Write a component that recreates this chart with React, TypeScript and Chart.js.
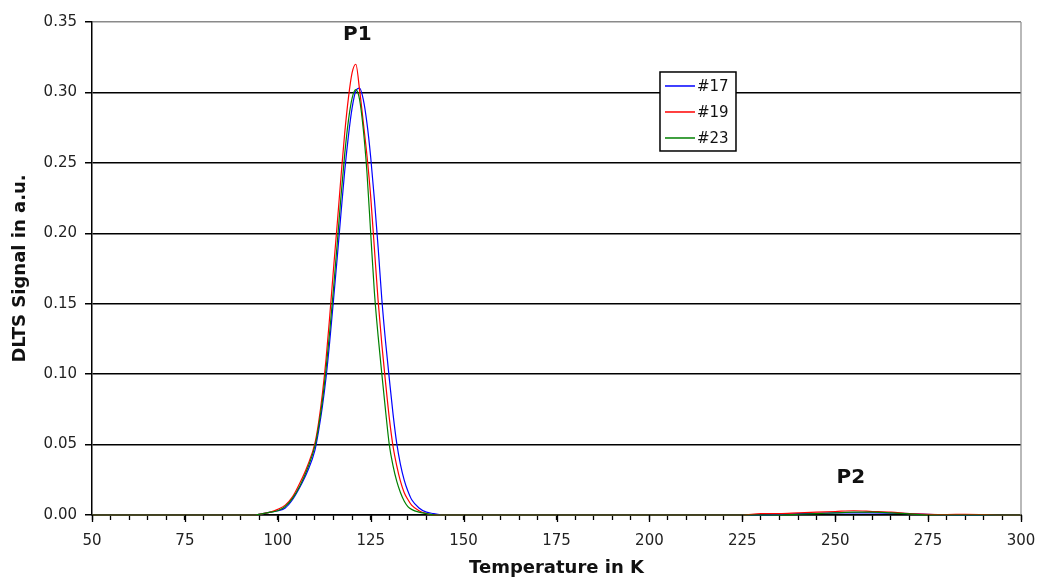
import React, { useEffect, useRef } from "react";
import { Chart, registerables } from "chart.js";

Chart.register(...registerables);

// Temperature grid (K)
const temps = [
  50, 60, 70, 80, 90, 94, 96, 98, 100, 102, 104, 106, 108, 110, 111, 112, 113, 114, 115, 116,
  117, 118, 119, 120, 121, 122, 123, 124, 125, 126, 127, 128, 129, 130, 131, 132, 133, 134, 135,
  136, 138, 140, 142, 144, 146, 150, 175, 200, 225, 230, 235, 240, 245, 250, 255, 260, 265, 270,
  275, 280, 285, 290, 295, 300,
];

// DLTS signal (a.u.) for sample #17
const signal17 = [
  0, 0, 0, 0, 0, 0, 0.001, 0.002, 0.003, 0.005, 0.011, 0.02, 0.031, 0.046, 0.06, 0.077, 0.098,
  0.124, 0.153, 0.183, 0.214, 0.244, 0.269, 0.289, 0.301, 0.303, 0.295, 0.278, 0.254, 0.224, 0.19,
  0.153, 0.123, 0.097, 0.072, 0.051, 0.036, 0.025, 0.017, 0.011, 0.005, 0.002, 0.001, 0, 0, 0, 0,
  0, 0, 0, 0.0005, 0.001, 0.0012, 0.0015, 0.0015, 0.0015, 0.0013, 0.001, 0.0005, 0, 0, 0, 0, 0,
];

// DLTS signal (a.u.) for sample #19
const signal19 = [
  0, 0, 0, 0, 0, 0, 0.001, 0.002, 0.004, 0.007, 0.013, 0.023, 0.035, 0.051, 0.066, 0.086, 0.111,
  0.142, 0.175, 0.207, 0.24, 0.271, 0.296, 0.314, 0.32, 0.302, 0.279, 0.255, 0.226, 0.189, 0.152,
  0.121, 0.094, 0.069, 0.049, 0.035, 0.024, 0.016, 0.011, 0.007, 0.003, 0.001, 0, 0, 0, 0, 0, 0,
  0, 0.001, 0.001, 0.0015, 0.002, 0.0025, 0.003, 0.0025, 0.002, 0.001, 0.0005, 0.0003, 0.0005,
  0.0003, 0, 0,
];

// DLTS signal (a.u.) for sample #23
const signal23 = [
  0, 0, 0, 0, 0, 0, 0.001, 0.002, 0.003, 0.006, 0.012, 0.021, 0.033, 0.049, 0.063, 0.081, 0.104,
  0.131, 0.161, 0.193, 0.226, 0.256, 0.28, 0.296, 0.302, 0.295, 0.274, 0.243, 0.2, 0.158, 0.127,
  0.1, 0.074, 0.05, 0.035, 0.024, 0.016, 0.01, 0.006, 0.004, 0.002, 0.001, 0, 0, 0, 0, 0, 0, 0, 0,
  0, 0.0005, 0.001, 0.0015, 0.002, 0.002, 0.0015, 0.0008, 0, 0, 0, 0, 0, 0,
];

const seriesNames = ["#17", "#19", "#23"];
const seriesColors = ["#0000ff", "#ff0000", "#008000"];

// Major x tick values (labelled)
const majorTicks = [50, 75, 100, 125, 150, 175, 200, 225, 250, 275, 300];

// Peak annotations: label, temperature, signal
const peakLabels = ["P1", "P2"];
const peakTemps = [121.4, 254.2];
const peakSignals = [0.341, 0.0263];

const FONT = "'DejaVu Sans', 'Liberation Sans', Arial, sans-serif";

export default function App() {
  const canvasRef = useRef<HTMLCanvasElement | null>(null);

  useEffect(() => {
    const canvas = canvasRef.current;
    if (!canvas) return;
    const series = [signal17, signal19, signal23];

    const overlay = {
      id: "overlay",
      afterDraw(chart: any) {
        const { ctx, chartArea: a, scales } = chart;
        ctx.save();
        // right plot-area border
        ctx.strokeStyle = "#8a8a8a";
        ctx.lineWidth = 1.2;
        ctx.beginPath();
        ctx.moveTo(a.right, a.top);
        ctx.lineTo(a.right, a.bottom);
        ctx.stroke();

        // longer major ticks on x axis
        ctx.strokeStyle = "#000";
        ctx.lineWidth = 1.3;
        majorTicks.forEach((t) => {
          const px = Math.round(scales.x.getPixelForValue(t)) + 0.5;
          ctx.beginPath();
          ctx.moveTo(px, a.bottom);
          ctx.lineTo(px, a.bottom + 7);
          ctx.stroke();
        });

        // peak labels
        ctx.fillStyle = "#111";
        ctx.font = `bold 20px ${FONT}`;
        ctx.textAlign = "center";
        ctx.textBaseline = "middle";
        peakLabels.forEach((t, i) => {
          ctx.fillText(t, scales.x.getPixelForValue(peakTemps[i]), scales.y.getPixelForValue(peakSignals[i]));
        });

        // legend box
        const w = a.right - a.left;
        const h = a.bottom - a.top;
        const lx = a.left + 0.6114 * w;
        const ly = a.top + 0.1014 * h;
        const bw = 76;
        const bh = 79;
        ctx.fillStyle = "#fff";
        ctx.fillRect(lx, ly, bw, bh);
        ctx.strokeStyle = "#000";
        ctx.lineWidth = 1.5;
        ctx.strokeRect(lx, ly, bw, bh);
        ctx.font = `15px ${FONT}`;
        ctx.textAlign = "left";
        seriesNames.forEach((n, i) => {
          const yy = ly + 14 + i * 26;
          ctx.strokeStyle = seriesColors[i];
          ctx.lineWidth = 1.5;
          ctx.beginPath();
          ctx.moveTo(lx + 5, yy);
          ctx.lineTo(lx + 35, yy);
          ctx.stroke();
          ctx.fillStyle = "#111";
          ctx.fillText(n, lx + 37, yy + 1);
        });
        ctx.restore();
      },
    };

    const chart = new Chart(canvas, {
      type: "line",
      data: {
        datasets: seriesNames.map((name, i) => ({
          label: name,
          data: temps.map((t, j) => ({ x: t, y: series[i][j] })),
          borderColor: seriesColors[i],
          backgroundColor: seriesColors[i],
          borderWidth: 1.2,
          pointRadius: 0,
          cubicInterpolationMode: "monotone" as const,
          order: 2 - i,
          clip: false as any,
        })),
      },
      options: {
        animation: false,
        responsive: false,
        devicePixelRatio: 1,
        layout: { padding: { top: 22, right: 21, left: 0, bottom: 0 } },
        plugins: { legend: { display: false }, tooltip: { enabled: false } },
        scales: {
          x: {
            type: "linear",
            min: 50,
            max: 300,
            afterFit: (s: any) => {
              s.height = 72;
              s.paddingRight = 0;
              s.paddingLeft = 0;
            },
            ticks: {
              stepSize: 5,
              autoSkip: false,
              maxRotation: 0,
              padding: 12,
              color: "#222",
              font: { family: FONT, size: 15 },
              callback: (v: any) => (Number(v) % 25 === 0 ? String(v) : ""),
            },
            grid: {
              drawOnChartArea: false,
              drawTicks: true,
              tickLength: 5,
              tickColor: "#000",
              tickWidth: 1.3,
            },
            border: { color: "#000", width: 1.5 },
            title: {
              display: true,
              text: "Temperature in K",
              color: "#111",
              font: { family: FONT, size: 18, weight: "bold" },
              padding: { top: 0, bottom: 8 },
            },
          },
          y: {
            type: "linear",
            min: 0,
            max: 0.35,
            afterFit: (s: any) => {
              s.width = 92;
            },
            ticks: {
              stepSize: 0.05,
              padding: 8,
              color: "#222",
              font: { family: FONT, size: 15 },
              callback: (v: any) => Number(v).toFixed(2),
            },
            grid: {
              color: (c: any) => (c.tick && c.tick.value > 0.349 ? "#8a8a8a" : "#000"),
              lineWidth: 1.5,
              drawTicks: true,
              tickLength: 7,
              tickColor: "#000",
            },
            border: { color: "#000", width: 1.5 },
            title: {
              display: true,
              text: "DLTS Signal in a.u.",
              color: "#111",
              font: { family: FONT, size: 18, weight: "bold" },
              padding: { top: 10, bottom: 0 },
            },
          },
        },
      },
      plugins: [overlay],
    });
    return () => chart.destroy();
  }, []);

  return (
    <div style={{ position: "absolute", left: 0, top: 0, width: 1042, height: 587, background: "#fff" }}>
      <canvas ref={canvasRef} width={1042} height={587} />
    </div>
  );
}
